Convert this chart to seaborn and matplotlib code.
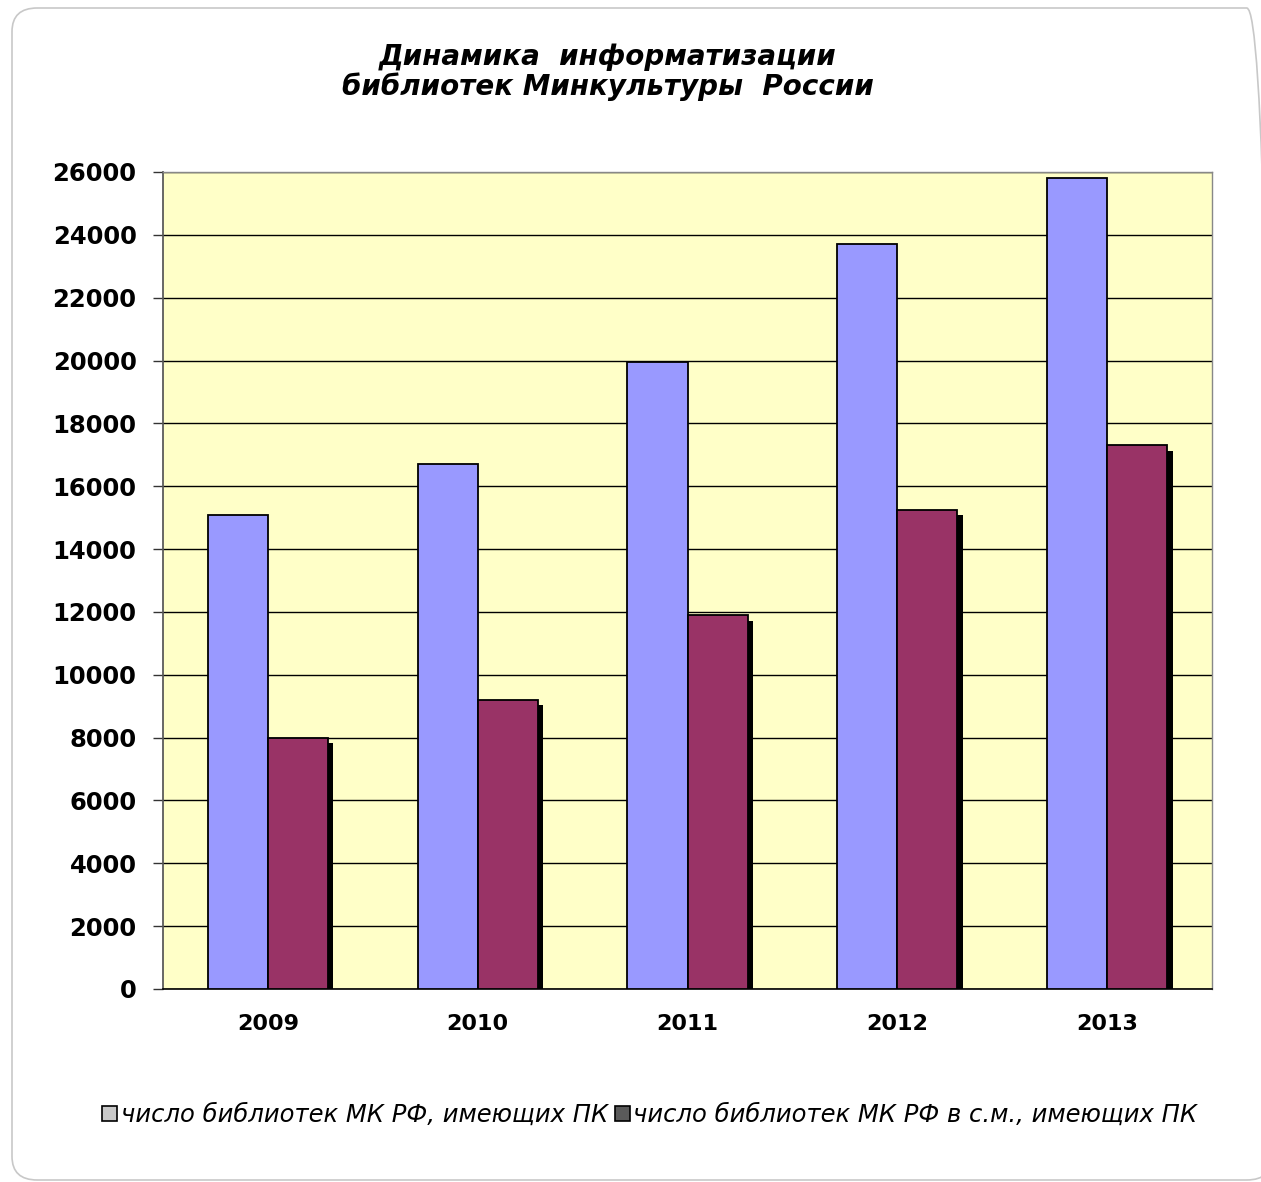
import matplotlib
matplotlib.use("Agg")
import matplotlib.pyplot as plt
import matplotlib.patheffects as pe
from matplotlib.patches import FancyBboxPatch, Patch
import seaborn as sns
import pandas as pd

years = ["2009", "2010", "2011", "2012", "2013"]
series_names = ["число библиотек МК РФ, имеющих ПК",
                "число библиотек МК РФ в с.м., имеющих ПК"]
libs_with_pc = [15100, 16700, 19950, 23700, 25800]
rural_libs_with_pc = [8000, 9200, 11900, 15250, 17300]
yticks = list(range(0, 26001, 2000))

df = pd.DataFrame({
    "year": years * 2,
    "value": libs_with_pc + rural_libs_with_pc,
    "series": [series_names[0]] * 5 + [series_names[1]] * 5,
})

sns.set_theme(style="white")
plt.rcParams["font.family"] = ["DejaVu Sans"]
plt.rcParams["text.color"] = "black"
plt.rcParams["xtick.color"] = "black"
plt.rcParams["ytick.color"] = "black"

fig = plt.figure(figsize=(12.61, 11.82), dpi=100)
fig.patch.set_facecolor("white")
border = FancyBboxPatch((12 / 1261, 2 / 1182), 1260 / 1261, 1172 / 1182,
                        boxstyle="round,pad=0,rounding_size=0.02",
                        transform=fig.transFigure, facecolor="none",
                        edgecolor="#c8c8c8", linewidth=1.2)
fig.patches.append(border)

ax = fig.add_axes([163 / 1261, 1 - 989 / 1182, (1212 - 163) / 1261, (989 - 172) / 1182])
ax.set_facecolor("#FFFFC8")

colors = ["#9999FF", "#993366"]
sns.barplot(data=df, x="year", y="value", hue="series", ax=ax,
            palette=colors, width=0.572, dodge=True,
            edgecolor="black", linewidth=1.3, saturation=1, legend=False)

for i, cont in enumerate(ax.containers):
    for p in cont.patches:
        p.set_zorder(3)
        if i == 1:
            p.set_path_effects([pe.SimplePatchShadow(offset=(4, -4), shadow_rgbFace="black", alpha=1),
                                pe.Normal()])

ax.set_ylim(0, 26000)
ax.set_yticks(yticks)
ax.set_yticklabels([str(t) for t in yticks], fontsize=17.5, fontweight="bold")
ax.set_xticklabels(years, fontsize=16, fontweight="bold")
ax.tick_params(axis="y", pad=12, left=True, length=7, width=1, color="#333333")
ax.tick_params(axis="x", pad=12, bottom=False)
ax.set_xlabel("")
ax.set_ylabel("")
ax.yaxis.grid(True, color="black", linewidth=1.0)
ax.set_axisbelow(True)
for s in ["top", "right"]:
    ax.spines[s].set_color("#888888")
    ax.spines[s].set_linewidth(1.0)
ax.spines["left"].set_color("#555555")
ax.spines["bottom"].set_color("black")
ax.spines["bottom"].set_linewidth(1.2)

fig.text(608 / 1261, 1 - 57 / 1182, "Динамика  информатизации", ha="center", va="center",
         fontsize=20, fontweight="bold", fontstyle="italic")
fig.text(608 / 1261, 1 - 87 / 1182, "библиотек Минкультуры  России", ha="center", va="center",
         fontsize=20, fontweight="bold", fontstyle="italic")

handles = [Patch(facecolor="#C8C8C8", edgecolor="black", linewidth=1.2),
           Patch(facecolor="#5A5A5A", edgecolor="black", linewidth=1.2)]
fig.legend(handles, series_names, loc="center", bbox_to_anchor=(650 / 1261, 1 - 1115 / 1182),
           ncol=2, frameon=False, prop={"style": "italic", "size": 17.5},
           handlelength=0.6, handleheight=0.6, handletextpad=0.15, columnspacing=0.3)

fig.savefig("out.png", dpi=100)
